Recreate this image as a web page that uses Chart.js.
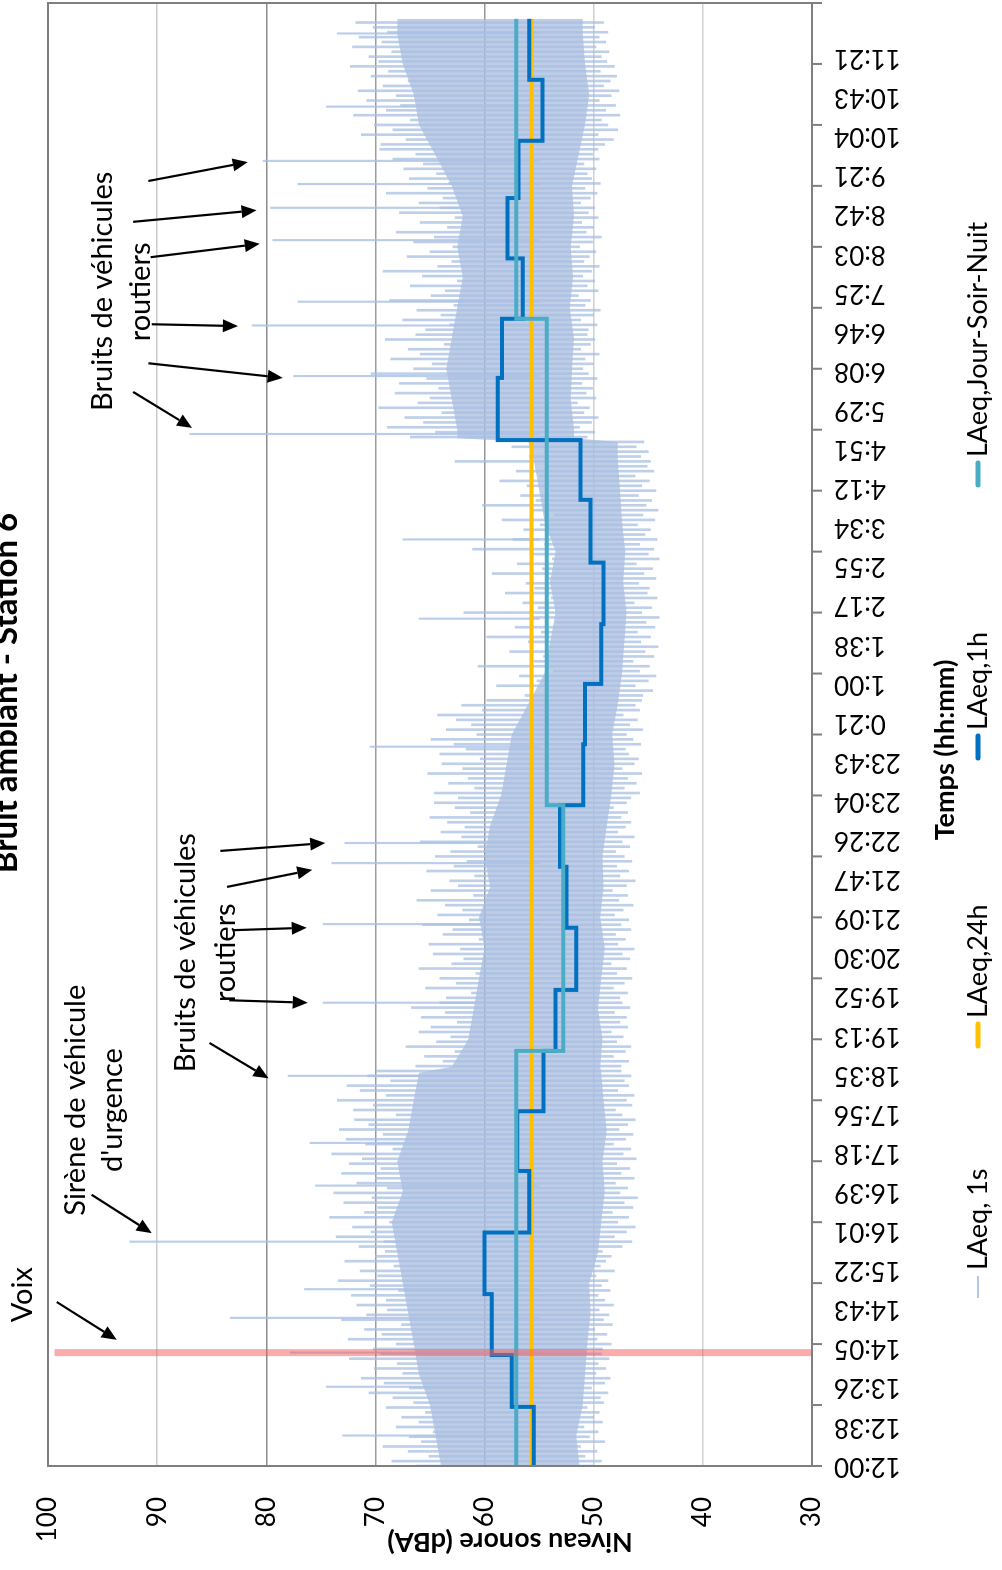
<!DOCTYPE html>
<html lang="fr">
<head>
<meta charset="utf-8">
<title>Bruit ambiant - Station 6</title>
<script src="https://cdn.jsdelivr.net/npm/chart.js@4.4.1/dist/chart.umd.min.js"></script>
<style>
  html, body { margin: 0; padding: 0; background: #fff; overflow: hidden; }
  /* the chart is drawn landscape, then turned a quarter turn to the left */
  #wrap { position: absolute; left: 0; top: 0; width: 1570px; height: 1002px;
          transform-origin: 0 0; transform: translateY(1570px) rotate(-90deg); }
</style>
</head>
<body>
<div id="wrap"><canvas id="bruit" width="1570" height="1002"></canvas></div>
<script>
// x values are in "hours of samples" since 12:00 (one axis tick per hour)
const timeLabels = ['12:00','12:38','13:26','14:05','14:43','15:22','16:01','16:39','17:18','17:56',
  '18:35','19:13','19:52','20:30','21:09','21:47','22:26','23:04','23:43','0:21','1:00','1:38',
  '2:17','2:55','3:34','4:12','4:51','5:29','6:08','6:46','7:25','8:03','8:42','9:21','10:04',
  '10:43','11:21'];
const labelStep = 0.6414;

const hourStarts = [0, 0.97, 1.82, 2.82, 3.83, 4.84, 5.82, 6.81, 7.81, 8.83, 9.83, 10.84, 11.84,
  12.83, 13.81, 14.82, 15.85, 16.83, 17.85, 18.82, 19.81, 20.80, 21.74, 22.74];
const laeq1h = [55.5, 57.5, 59.35, 60.0, 55.9, 57.0, 54.6, 53.5, 51.6, 52.5, 53.1, 50.95, 50.8,
  49.3, 49.1, 50.3, 51.2, 58.8, 58.4, 56.5, 57.9, 56.9, 54.7, 55.9];
const dataEnd = 23.74;

const laeq24h = 55.7;

const jsnStarts = [0, 6.81, 10.84, 18.82];
const laeqJSN = [57.1, 52.8, 54.3, 57.1];

// LAeq 1s, dense part of the band
const coreTimes = [0, 0.5, 1, 1.5, 2, 2.5, 3, 3.5, 4, 4.5, 5, 5.5, 6, 6.45, 6.55, 7, 7.5, 8, 8.5,
  9, 9.5, 10, 10.5, 11, 11.5, 12, 12.5, 13, 13.5, 14, 14.5, 15, 15.5, 16, 16.5, 16.8, 16.86, 17,
  17.5, 18, 18.5, 19, 19.5, 20, 20.5, 21, 21.5, 22, 22.5, 23, 23.5, 23.74];
const coreHi1s = [64.0, 64.5, 65.0, 66.0, 66.5, 67.0, 67.5, 68.0, 68.5, 67.5, 68.0, 67.0, 66.5,
  66.0, 63.0, 61.5, 61.0, 60.5, 60.0, 60.5, 59.5, 60.0, 59.5, 58.5, 58.0, 57.5, 56.0, 54.5, 54.0,
  53.5, 54.0, 53.5, 54.5, 55.0, 55.5, 56.0, 62.5, 62.5, 63.0, 63.5, 63.0, 62.5, 62.0, 62.5, 62.0,
  63.0, 64.5, 66.0, 66.5, 67.5, 68.0, 68.0];
const coreLo1s = [51.3, 51.6, 51.0, 50.8, 50.6, 50.3, 50.4, 49.6, 49.3, 49.0, 49.2, 48.8, 49.1,
  49.3, 49.4, 49.2, 49.6, 49.3, 49.0, 49.4, 49.1, 49.2, 48.8, 48.4, 48.1, 48.3, 47.8, 47.4, 47.2,
  47.0, 47.3, 47.1, 47.4, 47.6, 47.8, 47.8, 51.8, 51.8, 52.1, 52.0, 51.8, 52.2, 51.9, 52.1, 51.8,
  52.0, 51.4, 50.8, 50.4, 50.8, 51.0, 51.0];

// LAeq 1s, full spread: one [low, high] reading every 0.08 h
const step1s = 0.08;
const hi1s = [
  66.2, 68.5, 65.1, 67.0, 69.3, 65.8, 66.9, 64.7, 68.1, 66.0, 67.6, 65.4, 69.0, 66.5,
  68.4, 70.6, 66.9, 69.2, 71.3, 67.5, 70.1, 68.0, 72.4, 69.5,
  70.2, 68.1, 72.5, 69.4, 71.0, 67.6, 73.1, 70.8, 68.9, 71.7, 69.0, 72.2, 67.9, 70.5, 73.4, 69.8, 71.4, 68.3, 72.8, 70.0, 69.1,
  71.5, 69.2, 73.6, 70.4, 72.1, 68.7, 74.2, 71.0, 69.8, 72.9, 70.3, 73.8, 68.9, 71.7, 70.0, 73.1, 69.5, 72.4, 71.2, 74.0,
  68.4, 70.9, 72.7, 69.3, 73.3, 70.6, 71.9, 68.1, 72.0, 70.2, 73.5, 69.0, 71.4, 72.6, 68.6, 70.7, 69.9,
  66.3, 63.8, 65.5, 62.7, 67.2, 64.4, 63.1, 66.0, 64.9, 62.5, 65.8, 63.6, 66.7, 64.1,
  63.5, 61.2, 65.4, 62.6, 64.1, 60.8, 66.0, 63.0, 61.9, 64.7, 62.2, 65.1, 60.5, 63.8, 62.9, 65.7, 61.4, 64.3, 62.0, 63.6,
  66.2, 61.0, 64.9, 62.4, 63.2, 60.9, 65.3, 62.8, 61.6, 64.5, 63.1, 60.6, 65.9, 62.1, 64.0, 61.8, 63.4, 65.0, 61.3, 62.7, 64.6,
  62.4, 64.6, 60.9, 63.3, 61.5, 65.2, 62.0, 63.9, 60.4, 64.1, 61.7, 62.8, 64.9, 60.7, 63.5, 61.2, 62.6, 64.3, 60.2, 62.1, 59.8,
  56.3, 54.4, 58.9, 55.2, 56.8, 53.7, 60.6, 55.5, 54.6, 57.7, 54.1, 56.0, 59.8, 54.8, 57.2, 53.5, 55.7, 61.9, 55.1, 56.5,
  53.9, 58.1, 55.4, 56.2, 54.3, 59.3, 54.7, 57.0, 53.8, 55.8, 61.1, 54.5, 57.4, 54.2, 56.4, 54.9, 58.4, 53.6, 55.6, 60.2,
  55.3, 56.7, 54.0, 56.1, 58.6, 55.0, 57.1, 54.4, 62.7, 55.9, 54.5, 57.5, 55.7,
  66.8, 64.5, 68.9, 65.6, 67.3, 63.9, 69.7, 66.1, 65.0, 68.2, 64.2, 67.8, 65.3, 70.4, 66.5, 64.8, 68.6, 65.9, 67.0, 63.7, 69.1, 66.3,
  65.4, 63.2, 67.5, 64.0, 66.2, 62.8, 68.7, 64.9, 63.6, 66.8, 62.5, 65.7, 69.3, 64.3, 63.0, 67.1, 65.0, 62.9, 66.5, 64.6,
  68.1, 63.4, 65.9, 62.7, 67.8, 64.1, 66.0, 63.8, 69.0, 65.2, 63.3, 66.9, 64.4, 67.4, 65.6, 68.4, 66.3, 69.6,
  69.5, 67.2, 71.3, 68.4, 70.1, 66.8, 72.0, 69.0, 67.7, 70.8, 68.1, 71.6, 69.3, 67.0, 70.4, 68.8, 72.3, 69.7,
  70.6, 68.5, 72.1, 69.4, 71.5, 68.9, 70.2, 71.8
];
const lo1s = [
  50.1, 49.3, 50.8, 49.7, 51.2, 49.0, 50.4, 49.6, 50.9, 49.2, 50.0, 49.5, 50.6, 49.1,
  49.4, 48.7, 50.2, 49.0, 48.5, 49.8, 48.9, 49.6, 48.6, 49.3,
  49.2, 48.4, 49.7, 48.8, 49.9, 48.3, 49.1, 48.6, 49.5, 48.2, 49.0, 49.6, 48.5, 49.3, 48.7, 49.8, 48.1, 49.4, 48.9, 48.4, 49.2,
  47.4, 46.5, 48.1, 47.0, 46.2, 47.8, 46.8, 48.3, 46.4, 47.2, 46.0, 47.6, 46.9, 48.0, 46.3, 47.5, 46.7, 47.9, 46.1, 47.3,
  46.6, 48.2, 47.1, 46.4, 47.7, 46.9, 46.2, 47.4, 48.0, 46.5, 47.0, 46.3, 47.8, 46.8, 47.2, 46.6, 47.5,
  47.5, 46.8, 48.2, 47.1, 46.6, 47.9, 47.3, 48.4, 46.9, 47.6, 47.0, 48.1, 46.7, 47.4,
  47.6, 46.9, 48.2, 47.2, 46.5, 47.9, 47.0, 48.4, 46.7, 47.4, 46.3, 47.8, 47.1, 48.0, 46.6, 47.5, 46.8, 48.1, 47.3, 46.4,
  47.7, 46.9, 48.3, 47.0, 46.2, 47.6, 46.8, 47.9, 46.5, 47.2, 48.0, 46.7, 47.4, 46.3, 47.8, 47.1, 46.6, 47.5, 46.9, 48.2, 47.0,
  46.6, 45.8, 47.2, 46.1, 46.9, 45.6, 47.4, 46.3, 45.9, 46.8, 47.1, 45.7, 46.4, 47.0, 45.5, 46.7, 46.0, 47.3, 45.8, 46.2, 45.6,
  45.5, 44.6, 46.2, 45.0, 44.3, 45.8, 44.9, 46.4, 44.5, 45.3, 44.1, 45.7, 44.8, 46.0, 44.4, 45.2, 44.0, 45.6, 44.7, 46.3,
  44.2, 45.1, 44.9, 45.9, 44.3, 45.4, 44.6, 46.1, 44.0, 45.0, 44.5, 45.8, 44.2, 45.3, 44.8, 46.0, 44.4, 45.5, 44.1, 45.2,
  44.7, 45.9, 44.3, 45.6, 44.9, 46.2, 44.5, 45.1, 44.8, 45.7, 45.0, 46.1, 45.4,
  50.6, 49.9, 51.3, 50.2, 49.6, 50.9, 50.4, 51.5, 49.8, 50.7, 50.1, 51.1, 49.7, 50.5, 51.0, 50.0, 50.8, 49.5, 51.2, 50.3, 49.9, 50.6,
  50.5, 49.7, 51.2, 50.0, 49.4, 50.8, 50.3, 51.4, 49.6, 50.6, 49.9, 51.0, 50.2, 49.5, 50.9, 50.4, 49.8, 51.3, 50.1, 49.3,
  50.7, 50.0, 51.1, 49.6, 50.5, 49.9, 51.2, 50.3, 49.7, 50.8, 49.4, 50.2, 50.6, 49.8, 50.9, 49.5, 50.1, 49.6,
  49.0, 48.2, 49.6, 47.8, 48.7, 49.3, 47.6, 48.9, 48.0, 49.5, 48.4, 47.7, 49.1, 48.5, 47.9, 49.4, 48.1, 48.8,
  49.3, 48.6, 49.8, 48.9, 49.5, 48.7, 49.9, 49.1
];

// isolated 1s peaks (vehicles, siren, voice)
const peakTimes = [0.5, 1.3, 1.86, 2.43, 2.9, 3.68, 4.6, 5.3, 6.40, 7.60, 8.89, 9.89, 10.22, 11.8,
  13.9, 15.2, 16.93, 17.88, 18.71, 19.10, 20.11, 20.64, 21.03, 21.41, 22.3, 23.5];
const peakLevels = [73.0, 74.5, 77.8, 83.3, 76.5, 92.5, 75.5, 76.0, 78.0, 74.8, 74.8, 74.0, 72.8, 70.5,
  66.0, 67.5, 87.0, 77.5, 81.3, 77.1, 79.4, 79.6, 77.1, 80.3, 74.5, 73.5];

const voiceTime = 1.86;

const FONT = 'Lato, "Open Sans", sans-serif';
const gridShade = {30: '#7f7f7f', 40: '#d2d2d2', 50: '#d0d0d0', 60: '#979797', 70: '#9c9c9c', 80: '#8c8c8c', 90: '#cbcbcb', 100: '#7f7f7f'};

const notes = [
  {text: 'Voix', u: 2.81, v: 102.3},
  {text: 'Sirène de véhicule', u: 6.0, v: 97.5},
  {text: "d'urgence", u: 5.84, v: 94.1},
  {text: 'Bruits de véhicules', u: 8.42, v: 87.4},
  {text: 'routiers', u: 8.42, v: 83.7},
  {text: 'Bruits de véhicules', u: 19.27, v: 95.0},
  {text: 'routiers', u: 19.26, v: 91.5}
];
const arrows = [
  [2.69, 99.2, 2.07, 93.7],
  [4.45, 96.0, 3.82, 90.5],
  [10.09, 84.2, 10.22, 74.6],
  [9.50, 83.6, 9.78, 75.8],
  [8.79, 83.0, 8.83, 76.3],
  [7.64, 83.4, 7.60, 76.2],
  [6.94, 85.2, 6.36, 79.8],
  [21.08, 90.8, 21.39, 81.7],
  [20.41, 92.2, 20.60, 80.9],
  [19.83, 90.6, 20.05, 80.6],
  [18.73, 90.5, 18.70, 82.6],
  [18.09, 90.8, 17.85, 78.5],
  [17.62, 92.2, 17.03, 86.8]
];
const legendItems = [
  {text: 'LAeq, 1s', color: '#b4c7e7', width: 2, x: 270},
  {text: 'LAeq,24h', color: '#ffc000', width: 5, x: 522},
  {text: 'LAeq,1h', color: '#0070c0', width: 5, x: 810},
  {text: 'LAeq,Jour-Soir-Nuit', color: '#4bacc6', width: 5, x: 1083}
];

const stepped = (starts, vals) =>
  starts.map((s, i) => ({x: s, y: vals[i]})).concat([{x: dataEnd, y: vals[vals.length - 1]}]);
const coreLine = vals => coreTimes.map((t, i) => ({x: t, y: vals[i]}));

const n1s = Math.min(hi1s.length, lo1s.length);
const band = [];
for (let i = 0; i < n1s; i++) band.push({x: i * step1s, y: [lo1s[i], hi1s[i]]});

const decor = {
  id: 'decor',
  afterDraw(chart) {
    const {ctx, chartArea: a, scales: {x, y}} = chart;
    ctx.save();
    ctx.strokeStyle = '#7f7f7f';
    ctx.lineWidth = 2;
    ctx.strokeRect(a.left, a.top, a.right - a.left, a.bottom - a.top);
    ctx.beginPath();
    for (let h = 0; h <= 24; h++) {
      const px = x.getPixelForValue(h);
      ctx.moveTo(px, a.bottom);
      ctx.lineTo(px, a.bottom + 10);
    }
    ctx.stroke();

    ctx.fillStyle = '#000';
    ctx.textBaseline = 'middle';
    ctx.textAlign = 'center';
    ctx.font = '29px ' + FONT;
    notes.forEach(nt => ctx.fillText(nt.text, x.getPixelForValue(nt.u), y.getPixelForValue(nt.v)));

    ctx.strokeStyle = '#000';
    ctx.lineWidth = 2.2;
    arrows.forEach(([u1, v1, u2, v2]) => {
      const x1 = x.getPixelForValue(u1), y1 = y.getPixelForValue(v1);
      const x2 = x.getPixelForValue(u2), y2 = y.getPixelForValue(v2);
      const ang = Math.atan2(y2 - y1, x2 - x1);
      const L = 15, W = 6.5;
      ctx.beginPath();
      ctx.moveTo(x1, y1);
      ctx.lineTo(x2 - L * Math.cos(ang), y2 - L * Math.sin(ang));
      ctx.stroke();
      ctx.beginPath();
      ctx.moveTo(x2, y2);
      ctx.lineTo(x2 - L * Math.cos(ang) + W * Math.sin(ang), y2 - L * Math.sin(ang) - W * Math.cos(ang));
      ctx.lineTo(x2 - L * Math.cos(ang) - W * Math.sin(ang), y2 - L * Math.sin(ang) + W * Math.cos(ang));
      ctx.closePath();
      ctx.fill();
    });

    // titles
    ctx.font = 'bold 33px ' + FONT;
    ctx.textBaseline = 'alphabetic';
    ctx.fillText('Bruit ambiant - Station 6', 877, 17);
    ctx.textBaseline = 'middle';
    ctx.font = 'bold 27px ' + FONT;
    ctx.fillText('Temps (hh:mm)', 820, 945);
    ctx.save();
    ctx.translate(28, 510);
    ctx.rotate(-Math.PI / 2);
    ctx.fillText('Niveau sonore (dBA)', 0, 0);
    ctx.restore();

    // legend
    ctx.font = '27px ' + FONT;
    ctx.textAlign = 'left';
    legendItems.forEach(it => {
      ctx.strokeStyle = it.color;
      ctx.lineWidth = it.width;
      ctx.lineCap = it.width > 2 ? 'round' : 'butt';
      ctx.beginPath();
      ctx.moveTo(it.x + 2, 978);
      ctx.lineTo(it.x + 24, 978);
      ctx.stroke();
      ctx.fillText(it.text, it.x + 30, 978);
    });
    ctx.restore();
  }
};

new Chart(document.getElementById('bruit'), {
  type: 'line',
  data: {
    datasets: [
      {
        label: 'Voix',
        data: [{x: voiceTime, y: 99.4}, {x: voiceTime, y: 30}],
        borderColor: 'rgba(245, 90, 90, 0.5)',
        borderWidth: 7,
        pointRadius: 0,
        order: 0
      },
      {
        label: 'LAeq,Jour-Soir-Nuit',
        data: stepped(jsnStarts, laeqJSN),
        stepped: true,
        borderColor: '#4bacc6',
        borderWidth: 4,
        borderJoinStyle: 'miter',
        pointRadius: 0,
        order: 1
      },
      {
        label: 'LAeq,1h',
        data: stepped(hourStarts, laeq1h),
        stepped: true,
        borderColor: '#0070c0',
        borderWidth: 4,
        borderJoinStyle: 'miter',
        pointRadius: 0,
        order: 2
      },
      {
        label: 'LAeq,24h',
        data: [{x: 0, y: laeq24h}, {x: dataEnd, y: laeq24h}],
        borderColor: '#ffc000',
        borderWidth: 4,
        pointRadius: 0,
        order: 3
      },
      {
        type: 'bar',
        label: 'LAeq, 1s',
        data: peakTimes.map((t, i) => ({x: t, y: [55, peakLevels[i]]})),
        backgroundColor: 'rgba(170, 193, 229, 0.8)',
        barThickness: 1.5,
        grouped: false,
        order: 4
      },
      {
        type: 'bar',
        label: 'LAeq, 1s',
        data: band,
        backgroundColor: 'rgba(168, 191, 227, 0.75)',
        barThickness: 2,
        grouped: false,
        order: 5
      },
      {
        label: 'LAeq, 1s',
        data: coreLine(coreHi1s),
        borderWidth: 0,
        pointRadius: 0,
        backgroundColor: 'rgba(169, 190, 222, 0.75)',
        fill: '+1',
        order: 6
      },
      {
        label: 'LAeq, 1s',
        data: coreLine(coreLo1s),
        borderWidth: 0,
        pointRadius: 0,
        fill: false,
        order: 7
      }
    ]
  },
  options: {
    responsive: false,
    animation: false,
    events: [],
    layout: {padding: {top: 48, right: 3, bottom: 0, left: 0}},
    plugins: {legend: {display: false}, title: {display: false}, tooltip: {enabled: false}},
    scales: {
      x: {
        type: 'linear',
        min: 0,
        max: 24,
        offset: false,
        afterFit: s => { s.height = 190; },
        afterBuildTicks: s => { s.ticks = timeLabels.map((_, i) => ({value: i * labelStep})); },
        ticks: {
          autoSkip: false,
          minRotation: 90,
          maxRotation: 90,
          padding: 22,
          color: '#000',
          font: {family: FONT, size: 26},
          callback: (v, i) => timeLabels[i]
        },
        grid: {display: false, drawTicks: false},
        border: {display: true, color: '#7f7f7f', width: 2}
      },
      y: {
        type: 'linear',
        min: 30,
        max: 100,
        afterFit: s => { s.width = 104; },
        ticks: {stepSize: 10, padding: 31, color: '#000', font: {family: FONT, size: 26}},
        grid: {drawTicks: false, lineWidth: 1.5, color: c => gridShade[c.tick.value] || '#bbbbbb'},
        border: {display: true, color: '#7f7f7f', width: 2}
      }
    }
  },
  plugins: [decor]
});
</script>
</body>
</html>
